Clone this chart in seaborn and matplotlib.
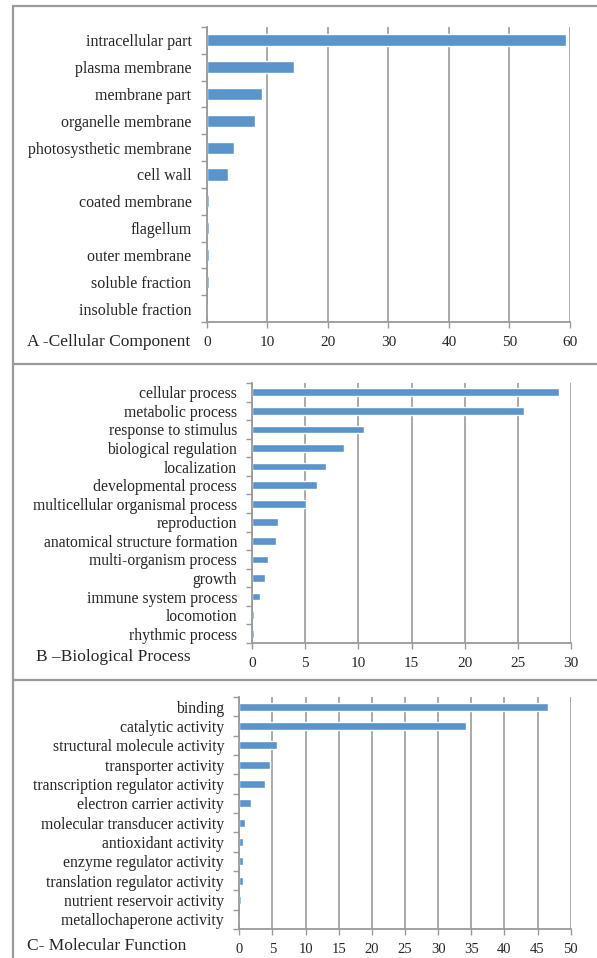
import matplotlib
matplotlib.use('Agg')
import matplotlib.pyplot as plt
import seaborn as sns
import numpy as np
import pandas as pd
from matplotlib.lines import Line2D

# panel A - cellular component
cc_terms = ["intracellular part", "plasma membrane", "membrane part", "organelle membrane",
            "photosysthetic membrane", "cell wall", "coated membrane", "flagellum",
            "outer membrane", "soluble fraction", "insoluble fraction"]
cc_vals = [59.3, 14.5, 9.2, 7.9, 4.5, 3.5, 0.3, 0.3, 0.3, 0.3, 0.0]
cc_ticks = [0, 10, 20, 30, 40, 50, 60]

# panel B - biological process
bp_terms = ["cellular process", "metabolic process", "response to stimulus", "biological regulation",
            "localization", "developmental process", "multicellular organismal process",
            "reproduction", "anatomical structure formation", "multi-organism process",
            "growth", "immune system process", "locomotion", "rhythmic process"]
bp_vals = [28.9, 25.6, 10.55, 8.6, 6.9, 6.05, 5.1, 2.4, 2.2, 1.45, 1.2, 0.73, 0.2, 0.2]
bp_ticks = [0, 5, 10, 15, 20, 25, 30]

# panel C - molecular function
mf_terms = ["binding", "catalytic activity", "structural molecule activity", "transporter activity",
            "transcription regulator activity", "electron carrier activity",
            "molecular transducer activity", "antioxidant activity", "enzyme regulator activity",
            "translation regulator activity", "nutrient reservoir activity",
            "metallochaperone activity"]
mf_vals = [46.6, 34.2, 5.7, 4.7, 3.9, 1.8, 0.8, 0.5, 0.5, 0.5, 0.25, 0.0]
mf_ticks = [0, 5, 10, 15, 20, 25, 30, 35, 40, 45, 50]

sns.set_style("white")
plt.rcParams['font.family'] = ['Liberation Serif', 'DejaVu Serif']

W, H = 597, 958
fig = plt.figure(figsize=(W / 100, H / 100), dpi=100)

bar_col = '#5b94ca'
grid_col = '#a3a3a3'
frame_col = '#9a9a9a'


def px_axes(x0, x1, y0, y1):
    return fig.add_axes([x0 / W, 1 - y1 / H, (x1 - x0) / W, (y1 - y0) / H])


def panel(ax, terms, vals, ticks, lab_fs, tick_fs, bar_h):
    df = pd.DataFrame({"term": terms, "value": vals})
    sns.barplot(data=df, y="term", x="value", orient="h", color=bar_col,
                saturation=1, width=bar_h, ax=ax, zorder=3)
    n = len(terms)
    ax.set_xlim(ticks[0], ticks[-1])
    ax.set_ylim(n - 0.5, -0.5)
    ax.set_xticks(ticks)
    ax.set_xticklabels([str(t) for t in ticks], fontsize=tick_fs)
    ax.set_yticks(np.arange(n))
    ax.set_yticklabels(terms, fontsize=lab_fs)
    ax.set_yticks(np.arange(n + 1) - 0.5, minor=True)
    ax.tick_params(axis='y', which='major', length=0, pad=11)
    ax.tick_params(axis='y', which='minor', length=4, width=1, color=frame_col, left=True)
    ax.tick_params(axis='x', which='major', length=4, width=1, color=frame_col,
                   bottom=True, pad=6)
    ax.xaxis.grid(True, color=grid_col, lw=1.3, zorder=0)
    ax.yaxis.grid(False)
    ax.set_xlabel("")
    ax.set_ylabel("")
    for s in ['top', 'right']:
        ax.spines[s].set_visible(False)
    for s in ['left', 'bottom']:
        ax.spines[s].set_color(frame_col)
        ax.spines[s].set_linewidth(1.3)
        ax.spines[s].set_zorder(4)
    ax.set_facecolor('white')


axA = px_axes(206.7, 570, 27, 322)
panel(axA, cc_terms, cc_vals, cc_ticks, 11.5, 11, 0.45)
axB = px_axes(252.3, 570.7, 383, 643)
panel(axB, bp_terms, bp_vals, bp_ticks, 11.3, 11, 0.42)
axC = px_axes(239.3, 570.7, 697, 929)
panel(axC, mf_terms, mf_vals, mf_ticks, 11.3, 10.5, 0.42)

# panel titles
fig.text(27 / W, 1 - 342 / H, "A -Cellular Component", fontsize=12.5, va='center', ha='left')
fig.text(36 / W, 1 - 657 / H, "B \u2013Biological Process", fontsize=12.5, va='center', ha='left')
fig.text(27 / W, 1 - 946 / H, "C- Molecular Function", fontsize=12.5, va='center', ha='left')

# panel frames
for y in [6, 363.5, 680]:
    fig.add_artist(Line2D([13 / W, 1], [1 - y / H, 1 - y / H], color=frame_col, lw=1.6,
                          transform=fig.transFigure))
fig.add_artist(Line2D([13 / W, 13 / W], [1 - 6 / H, 0], color=frame_col, lw=1.6,
                      transform=fig.transFigure))

fig.savefig("out.png", dpi=100)
plt.close()
